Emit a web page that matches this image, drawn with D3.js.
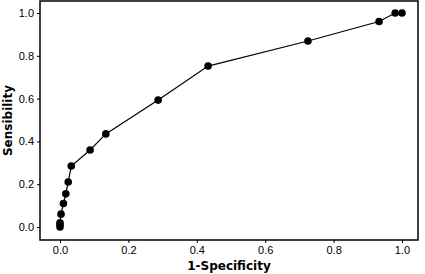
<!DOCTYPE html>
<html>
<head>
<meta charset="utf-8">
<script src="https://cdn.jsdelivr.net/npm/d3@7"></script>
<style>
  body { margin: 0; background: #fff; }
  svg { display: block; font-family: "DejaVu Sans", sans-serif; }
</style>
</head>
<body>
<div id="chart"></div>
<script>
// titik kurva ROC
const SPEC = [0, 0, 0, 0.003, 0.01, 0.017, 0.024, 0.033, 0.088, 0.134, 0.287, 0.433, 0.725, 0.933, 0.98, 1.0];
const SENS = [0, 0.01, 0.02, 0.06, 0.11, 0.155, 0.21, 0.285, 0.36, 0.435, 0.593, 0.752, 0.869, 0.96, 1.0, 1.0];
const TICKS = [0, 0.2, 0.4, 0.6, 0.8, 1.0];

const data = SPEC.map((s, i) => ({ x: s, y: SENS[i] }));

const W = 425, H = 274;
const frame = { left: 40, right: 418, top: 1, bottom: 240 };

const svg = d3.select("#chart").append("svg")
  .attr("width", W)
  .attr("height", H);

// skala
const x = d3.scaleLinear().domain([0, 1]).range([60, 402]);
const y = d3.scaleLinear().domain([0, 1]).range([227, 13]);

// kotak
svg.append("rect")
  .attr("x", frame.left)
  .attr("y", frame.top)
  .attr("width", frame.right - frame.left)
  .attr("height", frame.bottom - frame.top)
  .attr("fill", "none")
  .attr("stroke", "#000")
  .attr("stroke-width", 1.5);

// sumbu x
const xAxis = svg.append("g")
  .attr("transform", `translate(0,${frame.bottom})`)
  .call(d3.axisBottom(x).tickValues(TICKS).tickSize(3).tickPadding(3).tickFormat(d3.format(".1f")));
xAxis.select(".domain").remove();
xAxis.selectAll("text").attr("font-size", "11px").attr("fill", "#000");

// sumbu y
const yAxis = svg.append("g")
  .attr("transform", `translate(${frame.left},0)`)
  .call(d3.axisLeft(y).tickValues(TICKS).tickSize(3).tickPadding(3).tickFormat(d3.format(".1f")));
yAxis.select(".domain").remove();
yAxis.selectAll("text").attr("font-size", "11px").attr("fill", "#000");

// label sumbu
svg.append("text")
  .attr("x", (frame.left + frame.right) / 2)
  .attr("y", 270)
  .attr("text-anchor", "middle")
  .attr("font-size", "12px")
  .attr("font-weight", "bold")
  .text("1-Specificity");

svg.append("text")
  .attr("transform", "rotate(-90)")
  .attr("x", -(frame.top + frame.bottom) / 2)
  .attr("y", 12)
  .attr("text-anchor", "middle")
  .attr("font-size", "12px")
  .attr("font-weight", "bold")
  .text("Sensibility");

// garis
svg.append("path")
  .datum(data)
  .attr("fill", "none")
  .attr("stroke", "#000")
  .attr("stroke-width", 1.2)
  .attr("d", d3.line().x(d => x(d.x)).y(d => y(d.y)));

// titik
svg.selectAll(".pt")
  .data(data)
  .enter()
  .append("circle")
  .attr("class", "pt")
  .attr("cx", d => x(d.x))
  .attr("cy", d => y(d.y))
  .attr("r", 3.8)
  .attr("fill", "#000");
</script>
</body>
</html>
